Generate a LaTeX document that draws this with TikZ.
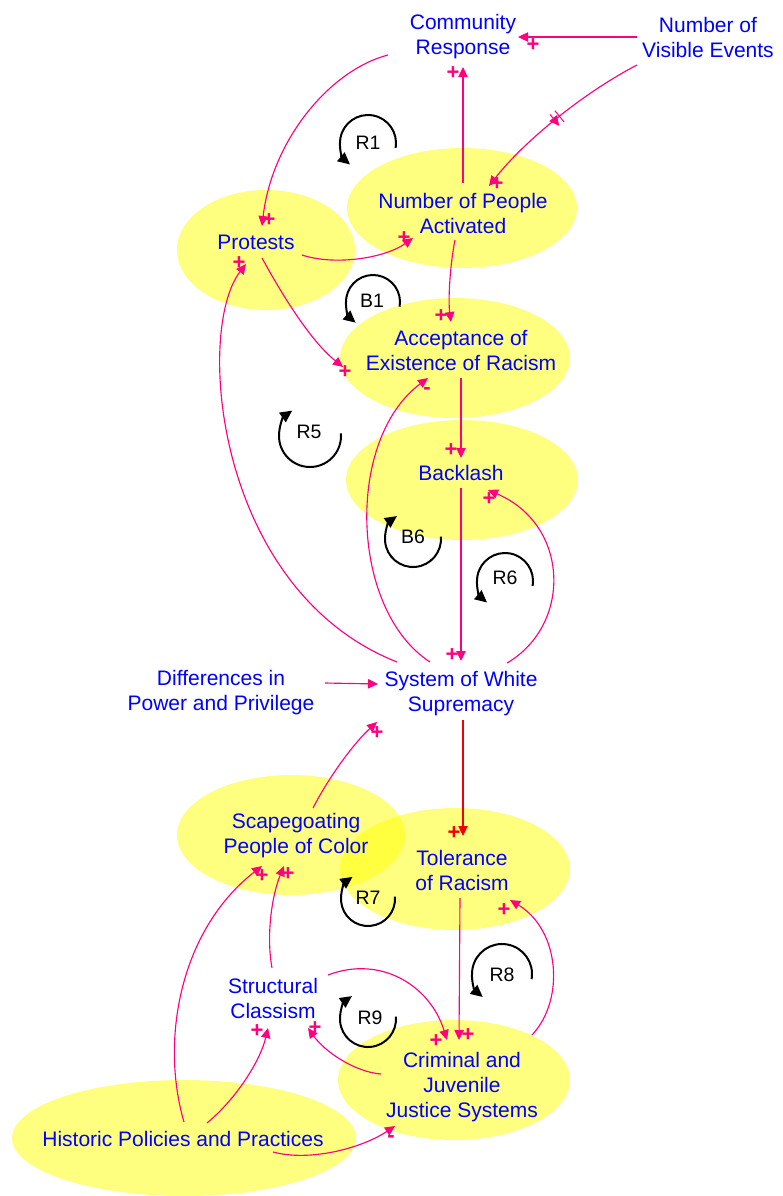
\documentclass[tikz,border=0pt]{standalone}
\usepackage{fontspec}
\setmainfont{Liberation Sans}
\usetikzlibrary{arrows.meta,calc,decorations.markings}
\definecolor{linkpink}{RGB}{255,0,128}
\definecolor{linkred}{RGB}{240,0,0}
\definecolor{varblue}{RGB}{0,0,255}
\definecolor{hilite}{RGB}{255,255,0}

\begin{document}
\begin{tikzpicture}[x=0.75pt,y=-0.75pt,
  var/.style={text=varblue, align=center, font=\fontsize{15.75pt}{18.75pt}\selectfont, inner sep=2pt},
  halo/.style={fill=hilite, fill opacity=0.5, draw=none},
  link/.style={draw=linkpink, line width=0.85pt, -{Triangle[length=7.5pt,width=7pt]}},
  redlink/.style={link, draw=linkred},
  sign/.style={text=linkpink, font=\bfseries\fontsize{16.5pt}{16.5pt}\selectfont, inner sep=0pt},
  redsign/.style={sign, text=linkred},
  loopmark/.style={draw=black, line width=1.5pt, -{Triangle[length=9pt,width=8.5pt]}},
  looplabel/.style={font=\fontsize{14.6pt}{14.6pt}\selectfont, inner sep=0pt},
  delaymark/.style={postaction={decorate}, decoration={markings,
    mark=at position 0.5 with {\draw[draw=linkpink, line width=0.75pt]
      (-2.3pt,-5.5pt) -- (-2.3pt,5.5pt) (2.3pt,-5.5pt) -- (2.3pt,5.5pt);}}},
]
\useasboundingbox (0,0) rectangle (782,1196);

% highlight ellipses behind the variables
\path[halo] (462,208) ellipse [x radius=115, y radius=60];
\path[halo] (266,250) ellipse [x radius=89, y radius=60];
\path[halo] (455,358) ellipse [x radius=115, y radius=60];
\path[halo] (462,480) ellipse [x radius=116, y radius=60];
\path[halo] (291,835) ellipse [x radius=114, y radius=60];
\path[halo] (455,869) ellipse [x radius=115, y radius=61];
\path[halo] (454,1080) ellipse [x radius=116, y radius=60];
\path[halo] (184,1138) ellipse [x radius=172, y radius=58];

% variables
\node[var] (cr) at (463,37) {Community\\Response};
\node[var] (nve) at (708,37) {Number of\\Visible Events};
\node[var] (npa) at (463,213) {Number of People\\Activated};
\node[var] (prot) at (256,242) {Protests};
\node[var] (acc) at (461,350) {Acceptance of\\Existence of Racism};
\node[var] (back) at (461,473) {Backlash};
\node[var] (sws) at (461,694) {System of White\\Supremacy};
\node[var] (diff) at (221,693) {Differences in\\Power and Privilege};
\node[var] (scape) at (296,836) {Scapegoating\\People of Color};
\node[var] (tol) at (462,870) {Tolerance\\of Racism};
\node[var] (crim) at (462,1087) {Criminal and\\Juvenile\\Justice Systems};
\node[var] (sc) at (273,998) {Structural\\Classism};
\node[var] (hist) at (183,1139) {Historic Policies and Practices};

% causal links
\draw[link] ([shift={(-71,0)}]nve.center) -- ([shift={(55,0)}]cr.center);
\draw[link,delaymark] ([shift={(-71,28)}]nve.center) .. controls (585,92) and (525,140) .. ([shift={(26,-27)}]npa.center);
\draw[link] ([shift={(0,-30)}]npa.center) -- ([shift={(0,30)}]cr.center);
\draw[link] ([shift={(-75,18)}]cr.center) .. controls (330,70) and (272,140) .. ([shift={(6,-16)}]prot.center);
\draw[link] ([shift={(46,13)}]prot.center) .. controls (335,266) and (385,258) .. ([shift={(-50,25)}]npa.center);
\draw[link] ([shift={(-8,27)}]npa.center) .. controls (450,265) and (448,300) .. ([shift={(-10,-28)}]acc.center);
\draw[link] ([shift={(6,16)}]prot.center) .. controls (285,300) and (312,342) .. ([shift={(-118,17)}]acc.center);
\draw[link] ([shift={(-64,-32)}]sws.center) .. controls (215,590) and (195,330) .. ([shift={(-10,22)}]prot.center);
\draw[link] ([shift={(-31,-32)}]sws.center) .. controls (350,610) and (345,440) .. ([shift={(-33,28)}]acc.center);
\draw[link] ([shift={(0,28)}]acc.center) -- ([shift={(0,-15)}]back.center);
\draw[link] ([shift={(0,15)}]back.center) -- ([shift={(0,-33)}]sws.center);
\draw[link] ([shift={(46,-31)}]sws.center) .. controls (572,625) and (570,525) .. ([shift={(27,17)}]back.center);
\draw[link] ([shift={(104,-10)}]diff.center) -- ([shift={(-83,-10)}]sws.center);
\draw[redlink] ([shift={(2,26)}]sws.center) -- ([shift={(1,-34)}]tol.center);
\draw[link] ([shift={(17,-28)}]scape.center) .. controls (330,775) and (355,742) .. ([shift={(-84,28)}]sws.center);
\draw[link] ([shift={(-2,28)}]tol.center) -- ([shift={(-3,-47)}]crim.center);
\draw[link] ([shift={(55,-23)}]sc.center) .. controls (380,955) and (430,985) .. ([shift={(-15,-47)}]crim.center);
\draw[link] ([shift={(70,-52)}]crim.center) .. controls (565,1000) and (560,930) .. ([shift={(48,30)}]tol.center);
\draw[link] ([shift={(-81,-13)}]crim.center) .. controls (355,1072) and (325,1052) .. ([shift={(35,30)}]sc.center);
\draw[link] ([shift={(24,-16)}]hist.center) .. controls (235,1100) and (260,1062) .. ([shift={(-5,30)}]sc.center);
\draw[link] ([shift={(1,-17)}]hist.center) .. controls (160,1040) and (180,930) .. ([shift={(-34,30)}]scape.center);
\draw[link] ([shift={(-1,-30)}]sc.center) .. controls (266,935) and (272,895) .. ([shift={(-12,30)}]scape.center);
\draw[link] ([shift={(90,13)}]hist.center) .. controls (310,1162) and (362,1148) .. ([shift={(-67,39)}]crim.center);

% link polarities
\node[sign] (s1) at (533,45) {+};
\node[sign] (s2) at (497,184) {+};
\node[sign] (s3) at (453,73) {+};
\node[sign] (s4) at (269,220) {+};
\node[sign] (s5) at (404,238) {+};
\node[sign] (s6) at (441,316) {+};
\node[sign] (s7) at (345,372) {+};
\node[sign] (s8) at (239,263) {+};
\node[sign] (s9) at (427,391) {-};
\node[sign] (s10) at (451,450) {+};
\node[sign] (s11) at (452,655) {+};
\node[sign] (s12) at (489,499) {+};
\node[redsign] (s13) at (454,833) {+};
\node[sign] (s14) at (377,733) {+};
\node[sign] (s15) at (468,1035) {+};
\node[sign] (s16) at (436,1041) {+};
\node[sign] (s17) at (504,910) {+};
\node[sign] (s18) at (315,1028) {+};
\node[sign] (s19) at (257,1031) {+};
\node[sign] (s20) at (262,876) {+};
\node[sign] (s21) at (288,874) {+};
\node[sign] (s22) at (391,1139) {-};

% feedback loop markers
\draw[loopmark] ($(368,143)+(10:28)$) arc[start angle=10, end angle=-230, radius=28];
\draw[loopmark] ($(373,302)+(10:27)$) arc[start angle=10, end angle=-230, radius=27];
\draw[loopmark] ($(310,436)+(-5:31)$) arc[start angle=-5, end angle=235, radius=31];
\draw[loopmark] ($(413,539)+(-5:28)$) arc[start angle=-5, end angle=235, radius=28];
\draw[loopmark] ($(505,581)+(10:28)$) arc[start angle=10, end angle=-230, radius=28];
\draw[loopmark] ($(368,899)+(-5:27)$) arc[start angle=-5, end angle=235, radius=27];
\draw[loopmark] ($(502,974)+(10:30)$) arc[start angle=10, end angle=-230, radius=30];
\draw[loopmark] ($(368,1019)+(-5:28)$) arc[start angle=-5, end angle=235, radius=28];

\node[looplabel] (lR1) at (368,143) {R1};
\node[looplabel] (lB1) at (372,301) {B1};
\node[looplabel] (lR5) at (309,432) {R5};
\node[looplabel] (lB6) at (413,537) {B6};
\node[looplabel] (lR6) at (505,578) {R6};
\node[looplabel] (lR7) at (368,898) {R7};
\node[looplabel] (lR8) at (502,975) {R8};
\node[looplabel] (lR9) at (370,1018) {R9};
\end{tikzpicture}
\end{document}
